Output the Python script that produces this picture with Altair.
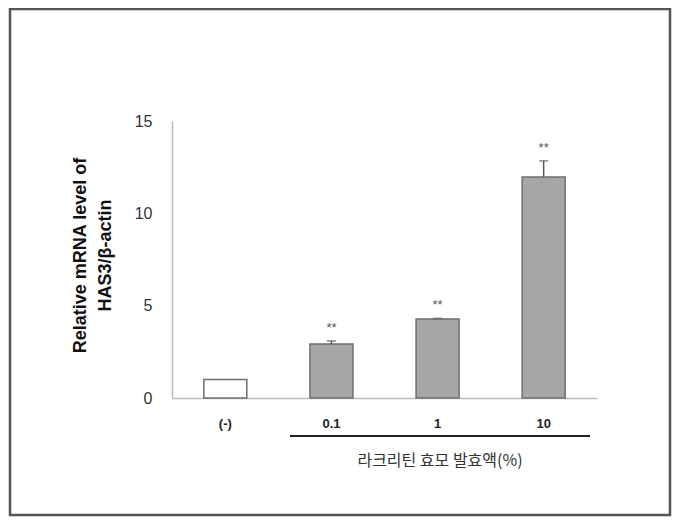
import altair as alt
import pandas as pd

categories = ["(-)", "0.1", "1", "10"]
values = [1.0, 2.92, 4.28, 11.97]
errors = [0.0, 0.17, 0.03, 0.87]
stars = ["", "**", "**", "**"]
fills = ["#ffffff", "#a6a6a6", "#a6a6a6", "#a6a6a6"]
y_ticks = [0, 5, 10, 15]
y_title = ["Relative mRNA  level of", "HAS3/β-actin"]
group_label = "라크리틴 효모 발효액(%)"

df = pd.DataFrame({
    "cat": categories,
    "value": values,
    "err": errors,
    "top": [v + e for v, e in zip(values, errors)],
    "star": stars,
    "fill": fills,
})

FONT = "Liberation Sans"

x = alt.X("cat:N", sort=categories,
          scale=alt.Scale(paddingInner=0.595, paddingOuter=0.3),
          axis=alt.Axis(title=None, labelAngle=0, ticks=False, labelPadding=19,
                        labelFontSize=13, labelFontWeight="bold", labelColor="#222",
                        labelFont=FONT, domainColor="#bdbdbd", domainWidth=1.5))
y = alt.Y("value:Q", scale=alt.Scale(domain=[0, 15], nice=False),
          axis=alt.Axis(values=y_ticks, grid=False, ticks=False, labelPadding=20,
                        labelFontSize=16, labelColor="#333", labelFont=FONT,
                        domainColor="#bdbdbd", domainWidth=1.5,
                        title=y_title, titleFont=FONT, titleFontSize=18,
                        titleFontWeight="bold", titleColor="#111", titleAngle=-90,
                        titleX=-92, titleY=134, titleAlign="center",
                        titleBaseline="middle", titleLineHeight=25))

base = alt.Chart(df)

bars = base.mark_bar(stroke="#6e6e6e", strokeWidth=1.5).encode(
    x=x, y=y,
    fill=alt.Fill("fill:N", scale=None),
)

err_df = df[df["err"] > 0]
err_base = alt.Chart(err_df)
err_rule = err_base.mark_rule(color="#555", strokeWidth=1.5).encode(
    x=alt.X("cat:N", sort=categories), y="value:Q", y2="top:Q")
err_cap = err_base.mark_tick(color="#555", size=9, thickness=1.5).encode(
    x=alt.X("cat:N", sort=categories), y="top:Q")

star_text = base.mark_text(fontSize=13, color="#555", font=FONT, dy=-13,
                           baseline="middle").encode(
    x=alt.X("cat:N", sort=categories), y="top:Q", text="star:N")

label_df = pd.DataFrame({"t": [group_label]})
underline = alt.Chart(label_df).mark_rule(color="#222", strokeWidth=1.8).encode(
    x=alt.value(118), x2=alt.value(418), y=alt.value(315))
group_text = alt.Chart(label_df).mark_text(
    font="Noto Sans CJK KR", fontSize=16, color="#333", baseline="middle").encode(
    x=alt.value(268), y=alt.value(340), text="t:N")

frame = alt.Chart(label_df).mark_rect(filled=False, stroke="#555", strokeWidth=2.5).encode(
    x=alt.value(-162), x2=alt.value(498), y=alt.value(-112), y2=alt.value(394))

chart = alt.layer(bars, err_rule, err_cap, star_text, underline, group_text, frame).properties(
    width=425, height=277,
    padding={"left": 164, "top": 113, "right": 75, "bottom": 119},
    autosize=alt.AutoSizeParams(type="none"),
    background="white",
).configure_view(stroke="transparent")

chart.save("out.html", embed_options={"renderer": "svg", "actions": False})
